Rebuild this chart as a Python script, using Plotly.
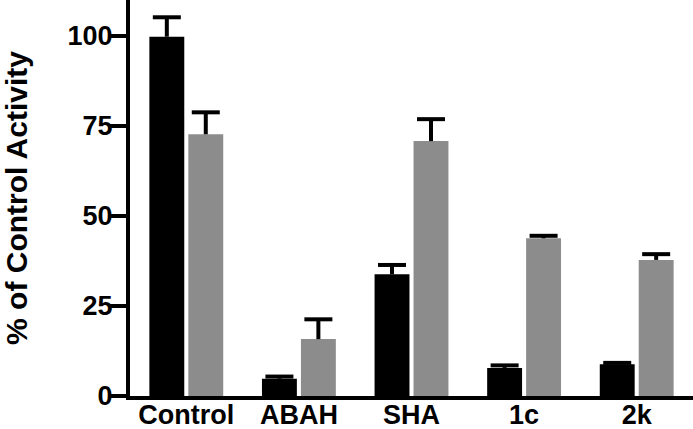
import plotly.graph_objects as go

categories = ["Control", "ABAH", "SHA", "1c", "2k"]
series1_values = [99.8, 4.8, 33.8, 7.8, 8.8]
series1_err = [5.4, 0.6, 2.6, 0.7, 0.4]
series2_values = [72.7, 15.8, 70.8, 43.8, 37.8]
series2_err = [6.1, 5.5, 6.1, 0.7, 1.6]
y_ticks = [0, 25, 50, 75, 100]

FONT = "Liberation Sans, Arial, sans-serif"
BAR_W = 0.31
HALF_SEP = 0.173

idx = list(range(len(categories)))
fig = go.Figure()
for vals, errs, color, sign in [
    (series1_values, series1_err, "#000000", -1),
    (series2_values, series2_err, "#8c8c8c", 1),
]:
    xs = [i + sign * HALF_SEP for i in idx]
    fig.add_trace(go.Bar(
        x=xs, y=vals, width=BAR_W,
        marker=dict(color=color, line=dict(width=0)),
        error_y=dict(type="data", symmetric=False, array=errs,
                     arrayminus=[0] * len(errs), color="#000000",
                     thickness=4, width=0),
        showlegend=False, hoverinfo="skip",
    ))
    fig.add_trace(go.Scatter(
        x=xs, y=[v + e for v, e in zip(vals, errs)], mode="markers",
        marker=dict(symbol="line-ew", size=20, color="#000000",
                    line=dict(width=4, color="#000000")),
        showlegend=False, hoverinfo="skip", cliponaxis=False,
    ))

fig.update_layout(
    width=693, height=429,
    margin=dict(l=130, r=0, t=0, b=33, pad=0),
    barmode="overlay",
    plot_bgcolor="white", paper_bgcolor="white",
    font=dict(family=FONT, color="black"),
)
fig.update_xaxes(
    range=[-0.5, 4.5], tickvals=idx, ticktext=categories,
    showline=True, linecolor="black", linewidth=4,
    ticks="", showgrid=False, zeroline=False, automargin=False,
    tickfont=dict(family=FONT, size=27, weight="bold", color="black"),
    ticklabelstandoff=-8,
)
fig.update_yaxes(
    range=[0, 110], tickvals=y_ticks, ticktext=[str(t) for t in y_ticks],
    showline=True, linecolor="black", linewidth=4,
    ticks="outside", ticklen=16, tickwidth=4, tickcolor="black",
    showgrid=False, zeroline=False, automargin=False,
    tickfont=dict(family=FONT, size=27, weight="bold", color="black"),
    ticklabelstandoff=-8,
    title=dict(text="% of Control Activity", standoff=35,
               font=dict(family=FONT, size=30, weight="bold", color="black")),
)

fig.write_html(
    "out.html",
    config={"displayModeBar": False},
    post_script="document.body.style.margin='0';document.body.style.overflow='hidden';",
)
